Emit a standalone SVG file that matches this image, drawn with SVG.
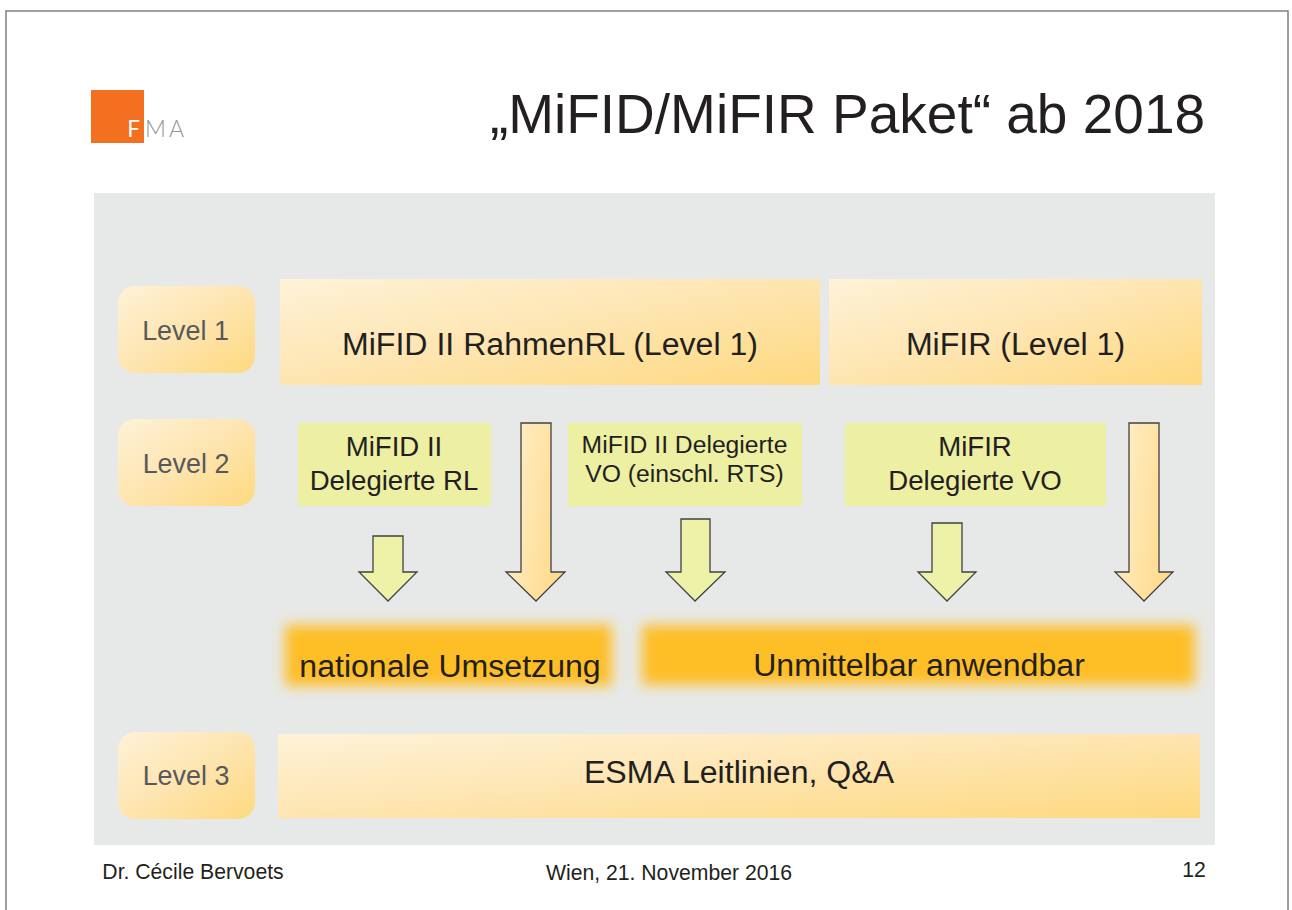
<svg xmlns="http://www.w3.org/2000/svg" width="1292" height="910" viewBox="0 0 1292 910">
<style>
text{font-family:"Liberation Sans",Arial,sans-serif;fill:#231f20;text-anchor:middle}
.lv{font-size:26.900px;fill:#58595b}
.big{font-size:32.100px}
.mid{font-size:27.600px}
.sm{font-size:24.700px}
.ft{font-size:21.200px}
.ar{stroke:#414042;stroke-width:1.3}
</style>
<defs>
<linearGradient id="g1" x1="0" y1="0" x2="1" y2="1"><stop offset="0" stop-color="#fef2d8"/><stop offset="0.5" stop-color="#fee5b0"/><stop offset="1" stop-color="#fed97f"/></linearGradient>
<linearGradient id="ga" x1="0" y1="0" x2="1" y2="0.35"><stop offset="0" stop-color="#fff0d0"/><stop offset="1" stop-color="#fedc8e"/></linearGradient>
<filter id="b" x="-10%" y="-50%" width="120%" height="200%"><feGaussianBlur stdDeviation="6.500"/></filter>
</defs>
<rect width="1292" height="910" fill="#fff"/>
<path d="M6 910V11H1288V910" fill="none" stroke="#808080" stroke-width="1.5"/>
<g id="logo"><rect x="91" y="90" width="53" height="53" fill="#f47021"/>
<text x="133.500" y="137" style="font-family:Lato,sans-serif;font-size:22.500px;fill:#fff">F</text>
<text x="166" y="137" style="font-family:Lato,sans-serif;font-weight:300;font-size:23px;fill:#939598;letter-spacing:3px">MA</text></g>
<text id="title" x="847.500" y="133" style="font-size:55px">„MiFID/MiFIR Paket“ ab 2018</text>
<rect id="panel" x="94" y="193" width="1121" height="652" fill="#e7e9e8"/>
<g id="level1"><rect x="118" y="286" width="137" height="87" rx="17" fill="url(#g1)"/><text class="lv" x="185.500" y="340">Level 1</text></g>
<g id="level2"><rect x="118" y="419" width="137" height="87" rx="17" fill="url(#g1)"/><text class="lv" x="186" y="473">Level 2</text></g>
<g id="level3"><rect x="118" y="732" width="137" height="87" rx="17" fill="url(#g1)"/><text class="lv" x="186" y="785">Level 3</text></g>
<g id="mifid-rahmen"><rect x="280" y="279" width="540" height="106" fill="url(#g1)"/><text class="big" x="550" y="355">MiFID II RahmenRL (Level 1)</text></g>
<g id="mifir"><rect x="829" y="279" width="373" height="106" fill="url(#g1)"/><text class="big" x="1015.500" y="355">MiFIR (Level 1)</text></g>
<g id="del-rl"><rect x="298" y="423" width="193" height="83" fill="#edefa3"/><text class="mid" x="394" y="456">MiFID II</text><text class="mid" x="394" y="490">Delegierte RL</text></g>
<g id="del-vo"><rect x="568" y="423" width="234" height="83" fill="#edefa3"/><text class="sm" x="684.500" y="453">MiFID II Delegierte</text><text class="sm" x="684.500" y="482">VO (einschl. RTS)</text></g>
<g id="mifir-vo"><rect x="845" y="423" width="261" height="83" fill="#edefa3"/><text class="mid" x="975" y="456">MiFIR</text><text class="mid" x="975" y="490">Delegierte VO</text></g>
<g id="connectors">
<path class="ar" fill="#edf2a8" d="M373 536H403V572H417L388 601L359 572H373Z"/>
<path class="ar" fill="url(#ga)" d="M521 423H551V572H565L536 601L506 572H521Z"/>
<path class="ar" fill="#edf2a8" d="M681 519H710V572H725L695 601L666 572H681Z"/>
<path class="ar" fill="#edf2a8" d="M932 523H962V572H976L947 601L918 572H932Z"/>
<path class="ar" fill="url(#ga)" d="M1129 423H1159V572H1173L1144 601L1115 572H1129Z"/>
</g>
<g id="national"><rect x="285" y="625" width="327" height="61" fill="#febe27" filter="url(#b)"/><text class="big" x="450" y="677">nationale Umsetzung</text></g>
<g id="unmittelbar"><rect x="642" y="625" width="553" height="60" fill="#febe27" filter="url(#b)"/><text class="big" x="919" y="676">Unmittelbar anwendbar</text></g>
<g id="esma"><rect x="278" y="734" width="922" height="84" fill="url(#g1)"/><text class="big" x="739" y="783">ESMA Leitlinien, Q&amp;A</text></g>
<text class="ft" x="193" y="879">Dr. Cécile Bervoets</text>
<text class="ft" x="669" y="880">Wien, 21. November 2016</text>
<text class="ft" x="1194" y="877">12</text>
</svg>
